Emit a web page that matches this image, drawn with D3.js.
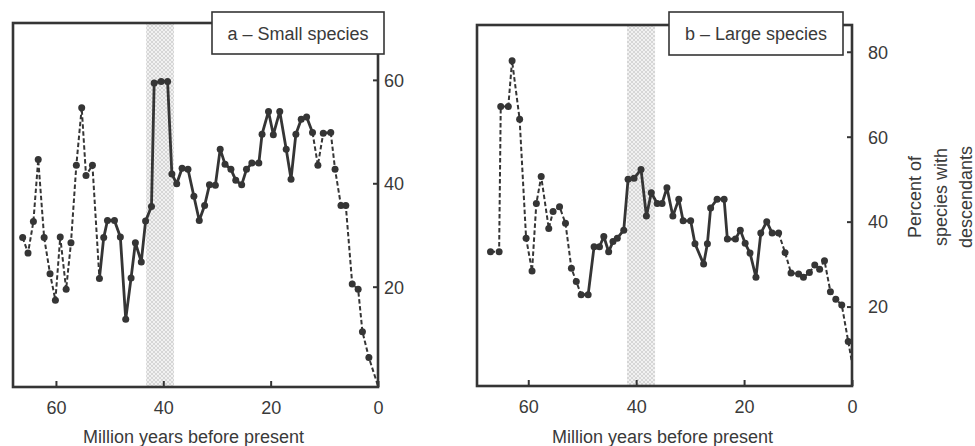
<!DOCTYPE html>
<html>
<head>
<meta charset="utf-8">
<script src="https://cdn.jsdelivr.net/npm/d3@7"></script>
<style>
  body { margin: 0; background: #fff; }
  svg { display: block; font-family: "Liberation Sans", Arial, sans-serif; }
  .tick text { font-size: 18px; fill: #3a3a3a; }
</style>
</head>
<body>
<div id="chart"></div>
<script>

///// Data (million years before present, percent of species with descendants)

let smallAge = [66.2, 65.2, 64.2, 63.3, 62.2, 61.1, 60.1, 59.2, 58.1, 57.2, 56.2, 55.2, 54.4, 53.2, 51.9,
    51.1, 50.4, 49.1, 48.0, 47.0, 46.0, 45.2, 44.1, 43.3, 42.2, 41.7, 40.4, 39.2, 38.4, 37.5, 36.5, 35.4,
    34.3, 33.3, 32.3, 31.4, 30.3, 29.4, 28.5, 27.4, 26.5, 25.4, 24.5, 23.5, 22.2, 21.6, 20.4, 19.5, 18.3,
    17.1, 16.2, 15.3, 14.3, 13.3, 12.2, 11.2, 10.2, 8.8, 8.0, 6.9, 6.0, 4.8, 3.7, 2.9, 1.7, 0];
let smallPct = [29.5, 26.5, 32.6, 44.6, 29.5, 22.5, 17.4, 29.6, 19.5, 28.5, 43.5, 54.6, 41.5, 43.5, 21.6,
    29.5, 32.8, 32.8, 29.6, 13.7, 21.7, 28.5, 24.8, 32.7, 35.5, 59.4, 59.7, 59.7, 41.8, 39.9, 42.9, 42.7,
    37.5, 32.8, 35.7, 39.7, 39.6, 46.6, 43.7, 42.7, 40.6, 39.7, 42.7, 43.9, 43.9, 49.5, 53.9, 49.4, 53.9,
    46.6, 40.8, 49.5, 52.4, 52.8, 49.8, 43.5, 49.7, 49.8, 42.7, 35.7, 35.7, 20.5, 19.5, 11.3, 6.3, 0.8];
// stretches drawn dashed
let smallDashed = [[66.2, 51.9], [12.2, 10.2], [8.8, 0]];
let smallBand = [43.2, 38.0];

let largeAge = [67.0, 65.4, 65.1, 63.7, 63.0, 61.6, 60.4, 59.3, 58.5, 57.6, 56.2, 55.4, 54.2, 53.1, 52.0,
    51.1, 50.2, 48.9, 47.8, 46.8, 46.0, 45.1, 44.3, 43.5, 42.3, 41.5, 40.4, 39.1, 38.1, 37.2, 36.1, 35.2,
    34.3, 33.2, 32.1, 31.3, 29.9, 29.1, 27.5, 26.8, 26.2, 25.0, 23.7, 23.1, 21.6, 20.7, 19.8, 18.9, 17.8,
    16.9, 15.8, 14.8, 13.6, 12.4, 11.3, 9.9, 9.0, 7.9, 6.9, 6.0, 5.1, 4.0, 3.0, 1.9, 0.7, 0];
let largePct = [32.9, 32.9, 67.1, 67.1, 77.9, 64.1, 36.1, 28.4, 44.3, 50.6, 38.4, 42.4, 43.5, 39.6, 29.0,
    25.9, 22.8, 22.8, 34.1, 34.1, 36.5, 32.9, 35.3, 36.1, 38.0, 50.0, 50.2, 52.3, 41.3, 46.8, 44.3, 44.3,
    48.0, 41.3, 45.3, 40.2, 40.2, 34.8, 30.0, 34.8, 43.2, 45.3, 45.3, 35.9, 35.9, 38.0, 34.9, 32.6, 26.9,
    37.3, 40.0, 37.3, 37.3, 32.7, 27.9, 27.7, 26.9, 28.0, 29.8, 28.8, 30.8, 23.5, 21.7, 20.4, 11.8, 6.8];
let largeDashed = [[67.0, 50.2], [13.6, 0]];
let largeBand = [41.7, 36.5];

let xTicks = [60, 40, 20, 0];
let smallTicks = [20, 40, 60];
let largeTicks = [20, 40, 60, 80];

let xTitle = "Million years before present";
let yTitle = ["Percent of", "species with", "descendants"];


///// Setup

let width = 975, height = 446;
let ink = "#353535";

let svg = d3.select("#chart")
    .append("svg")
    .attr("width", width)
    .attr("height", height);

// grey crosshatch for the shaded interval
let pat = svg.append("defs").append("pattern")
    .attr("id", "hatch")
    .attr("width", 4).attr("height", 4)
    .attr("patternUnits", "userSpaceOnUse");
pat.append("rect").attr("width", 4).attr("height", 4).attr("fill", "#d6d6d6");
pat.append("path").attr("d", "M0,0L4,4M4,0L0,4")
    .attr("stroke", "#f4f4f4").attr("stroke-width", 0.9);

let panels = [
    { age: smallAge, pct: smallPct, dashed: smallDashed, band: smallBand, yTicks: smallTicks,
      left: 13, right: 378, top: 23, bottom: 387, xMax: 68, yMin: 0.6, yMax: 71,
      pad: 6, label: "a \u2013 Small species", box: [212, 12, 172, 42] },
    { age: largeAge, pct: largePct, dashed: largeDashed, band: largeBand, yTicks: largeTicks,
      left: 477, right: 852, top: 25, bottom: 386, xMax: 69.5, yMin: 1.3, yMax: 86.3,
      pad: 16, label: "b \u2013 Large species", box: [669, 12, 174, 43] }
];

panels.forEach(drawPanel);

// shared y title on the far right
let yt = svg.append("text")
    .attr("transform", "translate(921,197) rotate(-90)")
    .attr("text-anchor", "middle")
    .attr("font-size", 18)
    .attr("fill", "#3a3a3a");
yTitle.forEach(function(s, i) {
    yt.append("tspan").attr("x", 0).attr("y", i * 25.5).text(s);
});


function drawPanel(p) {
    let x = d3.scaleLinear().domain([p.xMax, 0]).range([p.left, p.right]);
    let y = d3.scaleLinear().domain([p.yMin, p.yMax]).range([p.bottom, p.top]);
    let g = svg.append("g");

    // shaded interval
    g.append("rect")
        .attr("x", x(p.band[0]))
        .attr("y", p.top)
        .attr("width", x(p.band[1]) - x(p.band[0]))
        .attr("height", p.bottom - p.top)
        .attr("fill", "url(#hatch)");

    // frame
    g.append("rect")
        .attr("x", p.left).attr("y", p.top)
        .attr("width", p.right - p.left).attr("height", p.bottom - p.top)
        .attr("fill", "none").attr("stroke", ink).attr("stroke-width", 2.6);

    // x axis, ticks pointing in
    let xa = g.append("g")
        .attr("transform", "translate(0," + p.bottom + ")")
        .call(d3.axisBottom(x).tickValues(xTicks).tickSize(-6).tickPadding(14).tickFormat(d3.format("d")));
    xa.select(".domain").remove();
    xa.selectAll("line").attr("stroke", ink).attr("stroke-width", 2);

    // y axis on the right
    let ya = g.append("g")
        .attr("transform", "translate(" + p.right + ",0)")
        .call(d3.axisRight(y).tickValues(p.yTicks).tickSize(-5).tickPadding(p.pad));
    ya.select(".domain").remove();
    ya.selectAll("line").attr("stroke", ink).attr("stroke-width", 2);
    ya.selectAll("text").attr("dy", "0.35em");

    g.append("text")
        .attr("x", (p.left + p.right) / 2 - 2)
        .attr("y", 443)
        .attr("text-anchor", "middle")
        .attr("font-size", 18)
        .attr("fill", "#3a3a3a")
        .text(xTitle);

    // split the series into solid and dashed runs
    let pts = p.age.map(function(a, i) { return { age: a, pct: p.pct[i] }; });
    let runs = [];
    for (let i = 1; i < pts.length; i++) {
        let mid = (pts[i - 1].age + pts[i].age) / 2;
        let dash = p.dashed.some(function(r) { return mid <= r[0] && mid >= r[1]; });
        let last = runs[runs.length - 1];
        if (last && last.dash === dash) last.pts.push(pts[i]);
        else runs.push({ dash: dash, pts: [pts[i - 1], pts[i]] });
    }

    let line = d3.line()
        .x(function(d) { return x(d.age); })
        .y(function(d) { return y(d.pct); });

    g.selectAll(".run")
        .data(runs)
        .enter().append("path")
        .attr("class", "run")
        .attr("d", function(d) { return line(d.pts); })
        .attr("fill", "none")
        .attr("stroke", ink)
        .attr("stroke-linejoin", "round")
        .attr("stroke-width", function(d) { return d.dash ? 2 : 2.8; })
        .attr("stroke-dasharray", function(d) { return d.dash ? "4.5,2.5" : null; });

    g.selectAll(".pt")
        .data(pts.filter(function(d) { return d.age > 0; }))
        .enter().append("circle")
        .attr("class", "pt")
        .attr("cx", function(d) { return x(d.age); })
        .attr("cy", function(d) { return y(d.pct); })
        .attr("r", 3.5)
        .attr("fill", ink);

    // label box sits over the frame
    g.append("rect")
        .attr("x", p.box[0]).attr("y", p.box[1])
        .attr("width", p.box[2]).attr("height", p.box[3])
        .attr("fill", "#fff").attr("stroke", ink).attr("stroke-width", 1.6);
    g.append("text")
        .attr("x", p.box[0] + p.box[2] / 2)
        .attr("y", p.box[1] + p.box[3] / 2 + 6.5)
        .attr("text-anchor", "middle")
        .attr("font-size", 18)
        .attr("fill", "#3a3a3a")
        .text(p.label);
}

</script>
</body>
</html>
